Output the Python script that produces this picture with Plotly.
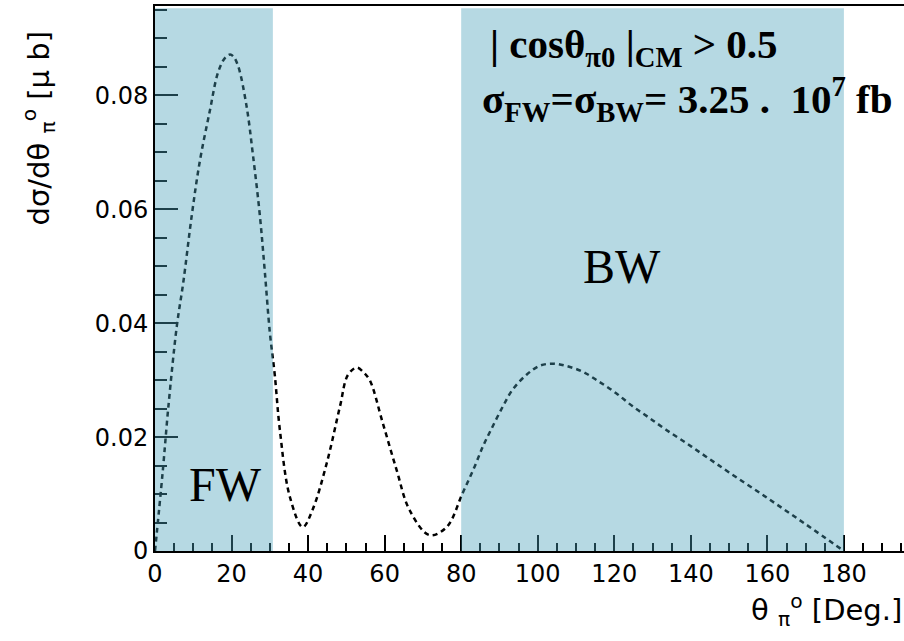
import plotly.graph_objects as go

# Data
theta_deg = [0, 2, 3.5, 5.7, 7.4, 9.6, 11.7, 14.3, 16.5, 18.3, 19.6, 20.4, 21.7, 23.9, 25.6, 27.4,
             28.7, 30, 31.3, 32.6, 35.2, 38.6, 41.2, 44.9, 48.3, 50.4, 52.7, 54.3, 56.1, 59.5,
             63.1, 66.5, 71.7, 76.2, 80.4, 83.5, 85.7, 87.8, 90.9, 93.5, 97, 100.4, 103.9,
             107.4, 111.7, 116.1, 120.5, 124.8, 129.1, 133.5, 138.7, 143.9, 150, 160, 170, 180]
dsigma = [0, 0.0138, 0.0254, 0.0395, 0.0472, 0.0589, 0.0684, 0.0772, 0.0841, 0.0866, 0.0872,
          0.0869, 0.0852, 0.0782, 0.0695, 0.0589, 0.049, 0.0384, 0.0309, 0.0214, 0.0096,
          0.0042, 0.0073, 0.0155, 0.0253, 0.0309, 0.0322, 0.0315, 0.0300, 0.0225, 0.0143,
          0.0072, 0.0028, 0.0042, 0.0102, 0.0148, 0.0184, 0.0213, 0.0254, 0.0284, 0.0309,
          0.0325, 0.0329, 0.0325, 0.0315, 0.0297, 0.0277, 0.0254, 0.0234, 0.0213, 0.0190,
          0.0166, 0.0138, 0.0093, 0.0047, 0]

fw_region = [0, 30.8]
bw_region = [80, 180]
x_ticks = [0, 20, 40, 60, 80, 100, 120, 140, 160, 180]
y_ticks = [0, 0.02, 0.04, 0.06, 0.08]
y_tick_text = ["0", "0.02", "0.04", "0.06", "0.08"]

fig = go.Figure()
fig.add_trace(go.Scatter(
    x=theta_deg, y=dsigma, mode="lines",
    line=dict(color="#000000", width=2.5, dash="5px,4px", shape="spline", smoothing=1.0),
    showlegend=False, hoverinfo="skip"))

shade = "rgba(73,160,185,0.4)"
for x0, x1 in (fw_region, bw_region):
    fig.add_shape(type="rect", xref="x", yref="y", x0=x0, x1=x1, y0=-0.0003, y1=0.0953,
                  fillcolor=shade, line=dict(width=0), layer="above")

sans = "DejaVu Sans, Verdana, sans-serif"
serif = "Liberation Serif, Times New Roman, serif"
tick_font = dict(family=sans, size=24, color="#000")
fig.update_xaxes(range=[0, 195.7], tickvals=x_ticks, ticks="inside", ticklen=16, tickwidth=1.5,
                 tickcolor="#000", showline=True, linecolor="#000", linewidth=2, mirror=True,
                 showgrid=False, zeroline=False, tickfont=tick_font,
                 minor=dict(dtick=5, tick0=0, ticks="inside", ticklen=8, tickwidth=1.5,
                            tickcolor="#000", showgrid=False))
fig.update_yaxes(range=[0, 0.0957], tickvals=y_ticks, ticktext=y_tick_text, ticks="inside",
                 ticklen=23, tickwidth=1.5, tickcolor="#000", showline=True, linecolor="#000",
                 linewidth=2, showgrid=False, zeroline=False, tickfont=tick_font,
                 minor=dict(dtick=0.005, tick0=0, ticks="inside", ticklen=12, tickwidth=1.5,
                            tickcolor="#000", showgrid=False))

annotations = [
    dict(text="dσ/dθ <sub>π</sub><sup>o</sup> [μ b]", xref="paper", yref="paper",
         x=(38 - 155) / 749, y=(551 - 28) / 545, xanchor="center", yanchor="top",
         textangle=-90, showarrow=False, font=dict(family=sans, size=29, color="#000")),
    dict(text="θ <sub>π</sub><sup>o</sup> [Deg.]", xref="paper", yref="paper",
         x=1, y=(551 - 610) / 545, xanchor="right", yanchor="middle",
         showarrow=False, font=dict(family=sans, size=29, color="#000")),
    dict(text="<b>| cosθ<sub>π0</sub> |<sub>CM</sub> > 0.5</b>", xref="paper", yref="paper",
         x=(488 - 155) / 749, y=(551 - 47) / 545, xanchor="left", yanchor="middle",
         showarrow=False, font=dict(family=serif, size=41, color="#000")),
    dict(text="<b>σ<sub>FW</sub>=σ<sub>BW</sub>= 3.25 .  10<sup>7</sup> fb</b>", xref="paper",
         yref="paper", x=(480 - 155) / 749, y=(551 - 99) / 545, xanchor="left",
         yanchor="middle", showarrow=False, font=dict(family=serif, size=41, color="#000")),
    dict(text="BW", xref="x", yref="y", x=122, y=0.0499, xanchor="center", yanchor="middle",
         showarrow=False, font=dict(family=serif, size=48, color="#000")),
    dict(text="FW", xref="x", yref="y", x=18.3, y=0.0116, xanchor="center", yanchor="middle",
         showarrow=False, font=dict(family=serif, size=48, color="#000")),
]

fig.update_layout(width=904, height=641, margin=dict(l=155, r=0, t=6, b=90),
                  paper_bgcolor="white", plot_bgcolor="white", annotations=annotations)

fig.write_html("out.html")
